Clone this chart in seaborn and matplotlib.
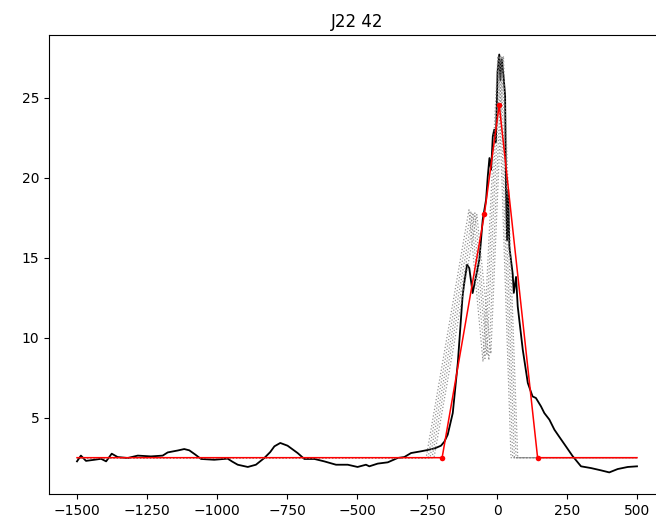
import matplotlib
matplotlib.use("Agg")
import matplotlib.pyplot as plt
import seaborn as sns
import pandas as pd

# Observed spectrum (black)
obs_x = [-1500, -1486, -1468, -1438, -1414, -1396, -1376, -1355, -1319, -1283,
         -1236, -1194, -1176, -1140, -1117, -1099, -1078, -1057, -1010, -962,
         -945, -926, -890, -861, -831, -810, -795, -774, -748, -712, -688,
         -652, -617, -575, -533, -498, -468, -456, -426, -390, -355, -331,
         -307, -271, -242, -220, -200, -188, -176, -158, -140, -123, -117,
         -107, -99, -87, -75, -63, -51, -39, -33, -27, -21, -15, -10, -4,
         2, 8, 12, 17, 24, 29, 32, 36, 40, 44, 56, 60, 68, 74, 92, 110,
         127, 139, 157, 169, 187, 205, 223, 246, 270, 300, 336, 371, 401,
         431, 467, 500]
obs_y = [2.27, 2.63, 2.30, 2.37, 2.43, 2.27, 2.75, 2.54, 2.48, 2.63,
         2.58, 2.63, 2.83, 2.95, 3.04, 2.96, 2.70, 2.42, 2.37, 2.44,
         2.25, 2.06, 1.92, 2.06, 2.48, 2.85, 3.21, 3.42, 3.25, 2.79, 2.42,
         2.42, 2.27, 2.06, 2.06, 1.92, 2.06, 1.96, 2.13, 2.21, 2.48, 2.54,
         2.79, 2.90, 3.00, 3.10, 3.25, 3.50, 3.94, 5.29, 8.42, 12.58, 13.42,
         14.56, 14.35, 12.79, 13.83, 14.88, 17.38, 18.63, 20.08, 21.23, 20.50, 22.58, 23.00, 22.20,
         26.60, 27.70, 26.10, 27.40, 26.20, 25.10, 19.25, 16.10, 19.25, 15.70, 14.00, 12.80, 13.80, 11.96, 9.25, 7.17,
         6.33, 6.23, 5.71, 5.29, 4.88, 4.25, 3.79, 3.21, 2.60, 1.96, 1.85, 1.71, 1.58,
         1.79, 1.92, 1.96]

# Model trials (grey dotted)
grey_x = [
    [-1500, -253, -100, -50, 3, 50, 500],
    [-1500, -246, -93, -43, 8, 56, 500],
    [-1500, -239, -86, -36, 13, 62, 500],
    [-1500, -232, -79, -29, 18, 68, 500],
    [-1500, -225, -72, -22, 23, 74, 500],
]
grey_y = [
    [2.5, 2.5, 18.0, 8.5, 27.6, 2.5, 2.5],
    [2.5, 2.5, 17.9, 8.7, 27.6, 2.5, 2.5],
    [2.5, 2.5, 17.8, 8.9, 27.6, 2.5, 2.5],
    [2.5, 2.5, 17.8, 8.6, 27.6, 2.5, 2.5],
    [2.5, 2.5, 17.7, 9.0, 27.6, 2.5, 2.5],
]

# Best model (red)
fit_x = [-1500, -196, -45, 8, 145, 500]
fit_y = [2.5, 2.5, 17.73, 24.56, 2.5, 2.5]
knot_x = [-196, -45, 8, 145]
knot_y = [2.5, 17.73, 24.56, 2.5]

title = "J22 42"
x_ticks = [-1500, -1250, -1000, -750, -500, -250, 0, 250, 500]
y_ticks = [5, 10, 15, 20, 25]

fig = plt.figure(figsize=(6.56, 5.24), dpi=100)
ax = fig.add_axes([49 / 656, 30 / 524, 616 / 656, 459 / 524])

obs = pd.DataFrame({"x": obs_x, "y": obs_y})
sns.lineplot(data=obs, x="x", y="y", ax=ax, color="black", linewidth=1.3,
             sort=False, estimator=None)

for gx, gy in zip(grey_x, grey_y):
    g = pd.DataFrame({"x": gx, "y": gy})
    sns.lineplot(data=g, x="x", y="y", ax=ax, color="grey", linewidth=0.9,
                 alpha=0.85, linestyle=":", sort=False, estimator=None)

fit = pd.DataFrame({"x": fit_x, "y": fit_y})
sns.lineplot(data=fit, x="x", y="y", ax=ax, color="red", linewidth=1.1,
             sort=False, estimator=None)
kn = pd.DataFrame({"x": knot_x, "y": knot_y})
sns.scatterplot(data=kn, x="x", y="y", ax=ax, color="red", s=16,
                edgecolor="red", linewidth=0, zorder=5)

ax.set_xlim(-1600, 600)
ax.set_ylim(0.23, 28.92)
ax.set_xticks(x_ticks)
ax.set_yticks(y_ticks)
ax.set_xlabel("")
ax.set_ylabel("")
ax.set_title(title, fontsize=12)

fig.savefig("out.png", dpi=100)
